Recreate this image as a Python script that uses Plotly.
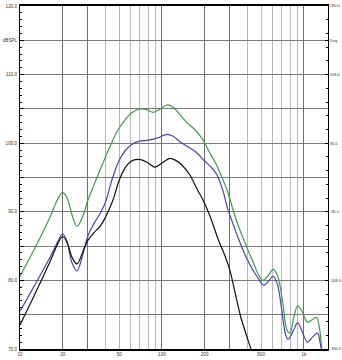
import math
import plotly.graph_objects as go

# ---- data ----
green_f = [10, 12, 14, 16.5, 18.5, 20, 21.5, 23.2, 25.2, 27.5, 30, 33, 37, 42, 48, 55, 62, 70, 78, 87,
           97, 110, 122, 135, 150, 170, 190, 215, 240, 265, 290, 320, 355, 390, 440, 480, 515, 560,
           610, 655, 710, 760, 800, 850, 905, 970, 1060, 1150, 1230, 1290, 1340, 1380]
green_db = [80.6, 83.7, 86.4, 89.5, 91.9, 92.8, 92.0, 89.6, 87.9, 89.2, 91.6, 93.8, 96.3, 99.0, 101.6,
            103.4, 104.5, 105.0, 104.9, 104.5, 105.0, 105.6, 105.1, 104.1, 103.0, 102.0, 100.8, 98.8,
            97.0, 95.0, 93.0, 90.0, 87.3, 85.2, 82.6, 80.8, 80.0, 80.7, 81.6, 80.6, 76.8, 72.8, 72.3,
            74.6, 76.3, 75.5, 73.9, 74.3, 74.6, 73.0, 69.8, 67.0]

blue_f = [10, 12, 14, 16.5, 18.5, 20, 21.5, 23.2, 25.2, 27.5, 30, 33, 37, 40, 45, 50, 55, 62, 70, 78,
          87, 97, 108, 120, 134, 155, 176, 200, 222, 244, 268, 290, 320, 343, 400, 470, 525, 570, 607,
          650, 700, 740, 775, 840, 905, 980, 1060, 1160, 1250, 1300, 1340, 1370]
blue_db = [75.5, 78.4, 80.9, 83.6, 85.7, 86.8, 85.6, 82.6, 81.4, 83.5, 86.4, 88.2, 89.9, 91.4, 95.0,
           97.5, 98.9, 99.9, 100.3, 100.4, 100.6, 100.9, 101.3, 101.0, 100.2, 99.4, 98.6, 97.4, 96.5,
           95.4, 93.2, 90.5, 88.0, 86.3, 83.0, 80.5, 79.3, 80.0, 80.6, 79.5, 75.6, 72.3, 71.4, 72.6,
           73.8, 72.4, 71.0, 71.8, 72.3, 71.0, 69.4, 67.0]

black_f = [10, 12, 14, 16.5, 18.5, 20, 21.5, 23.2, 25.2, 27.5, 30, 33, 37, 40, 45, 50, 55, 60, 65, 71,
           79, 89, 100, 114, 125, 137, 157, 176, 194, 218, 249, 278, 301, 327, 359, 390, 424, 445]
black_db = [73.5, 76.9, 79.8, 83.0, 85.4, 86.4, 85.5, 83.4, 82.4, 84.0, 85.8, 86.9, 88.0, 89.2, 91.6,
            94.6, 96.4, 97.3, 97.6, 97.6, 97.2, 96.5, 97.1, 97.8, 97.5, 96.9, 95.4, 93.4, 91.8, 89.4,
            86.0, 83.6, 81.5, 78.3, 74.7, 72.3, 70.0, 68.5]

# axis ticks / grid
x_label_vals = [10, 20, 50, 100, 200, 500, 1000]
x_label_text = ["10", "20", "50", "100", "200", "500", "1k"]
x_grid_dark = [10, 20, 30, 100, 200, 300, 1000]
x_grid_light = [40, 50, 60, 70, 80, 90, 400, 500, 600, 700, 800, 900]
y_tick_vals = [70, 75, 80, 85, 90, 95, 100, 105, 110, 115, 120]
y_tick_text = ["70.0", "", "80.0", "", "90.0", "", "100.0", "", "110.0", "dBSPL", "120.0"]
y2_tick_vals = [-180, -108, -36, 36, 108, 144, 180]
y2_tick_text = ["-180.0", "-108.0", "-36.0", "36.0", "108.0", "Deg", "180.0"]

X_MAX = 1480
FONT = "Liberation Sans"
LBL = dict(size=4.6, color="#333", family=FONT)
LBL_R = dict(size=4.0, color="#333", family=FONT)

fig = go.Figure()
line_style = dict(width=1.2, shape="spline", smoothing=1.0)
fig.add_trace(go.Scatter(x=green_f, y=green_db, mode="lines",
                         line=dict(color="#3f9a4f", **line_style),
                         showlegend=False, hoverinfo="skip"))
fig.add_trace(go.Scatter(x=blue_f, y=blue_db, mode="lines",
                         line=dict(color="#4b45a6", **line_style),
                         showlegend=False, hoverinfo="skip"))
fig.add_trace(go.Scatter(x=black_f, y=black_db, mode="lines", xaxis="x2",
                         line=dict(color="#111111", **line_style),
                         showlegend=False, hoverinfo="skip"))
# empty trace so the phase (right) axis is drawn
fig.add_trace(go.Scatter(x=[], y=[], yaxis="y2", mode="lines", showlegend=False, hoverinfo="skip"))

xr = [1, math.log10(X_MAX)]
fig.update_layout(
    width=342, height=360,
    margin=dict(l=20, r=14, t=6, b=11),
    paper_bgcolor="white", plot_bgcolor="white",
    font=dict(family=FONT, size=4.6, color="#333"),
    xaxis=dict(type="log", range=xr, tickmode="array", tickvals=x_grid_dark, automargin=False,
               showticklabels=False, ticks="", showgrid=True, gridcolor="#6f6f6f", gridwidth=1,
               minor=dict(tickmode="array", tickvals=x_grid_light, showgrid=True,
                          gridcolor="#b8b8b8", gridwidth=1, ticks=""),
               showline=True, linecolor="black", linewidth=1.5, mirror=True, zeroline=False),
    xaxis2=dict(type="log", range=xr, overlaying="x", anchor="y", side="bottom", automargin=False,
                tickmode="array", tickvals=x_label_vals, ticktext=x_label_text,
                showgrid=False, ticks="", showline=False, zeroline=False,
                ticklabelstandoff=1, tickfont=LBL),
    yaxis=dict(range=[70, 120], tickmode="array", tickvals=y_tick_vals, ticktext=y_tick_text,
               automargin=False,
               showgrid=True, gridcolor="#7a7a7a", gridwidth=1, zeroline=False,
               ticks="inside", ticklen=4, tickcolor="black",
               minor=dict(dtick=1, tick0=70, ticks="inside", ticklen=2, tickcolor="black"),
               showline=True, linecolor="black", linewidth=1,
               ticklabelstandoff=1, tickfont=LBL),
    yaxis2=dict(range=[-180, 180], overlaying="y", side="right", anchor="x", automargin=False,
                tickmode="array", tickvals=y2_tick_vals, ticktext=y2_tick_text,
                showgrid=False, zeroline=False, ticks="inside", ticklen=3, tickcolor="black",
                minor=dict(dtick=14.4, tick0=-180, ticks="inside", ticklen=2, tickcolor="black"),
                showline=True, linecolor="black", linewidth=1,
                ticklabelstandoff=0, tickfont=LBL_R),
)

fig.write_html("out.html")
